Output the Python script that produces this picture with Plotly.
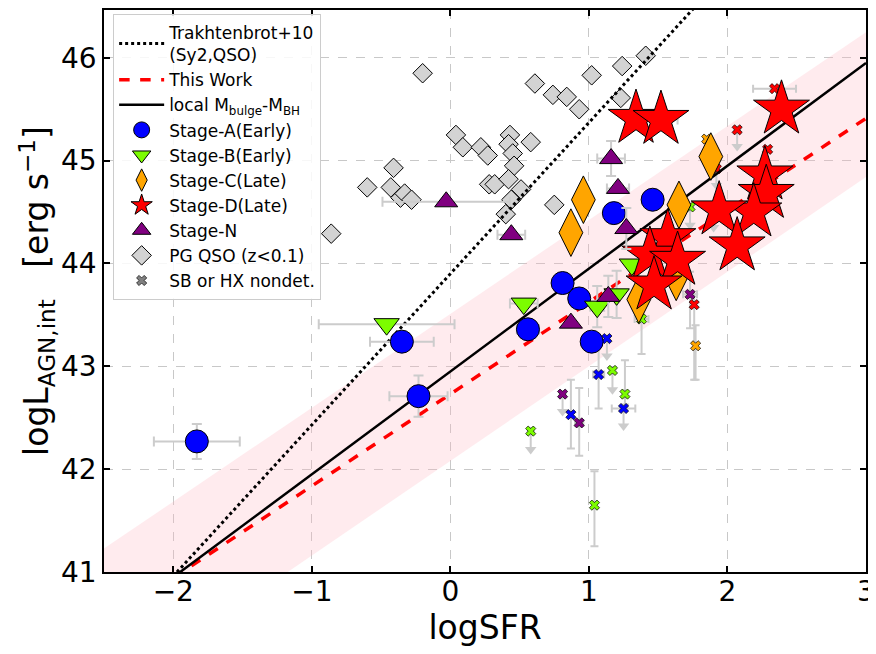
import numpy as np
import plotly.graph_objects as go

# ---------------- data ----------------
# Stage-A (Early)
a_x = [-1.83, -0.23, -0.35, 0.56, 0.81, 0.93, 1.02, 1.18, 1.46]
a_y = [42.27, 42.71, 43.24, 43.36, 43.81, 43.66, 43.24, 44.49, 44.62]
a_xe = [0.31, 0.21, 0.23, 0.08, 0.0, 0.0, 0.0, 0.0, 0.0]
a_ye = [0.17, 0.20, 0.0, 0.0, 0.0, 0.0, 0.05, 0.0, 0.0]

# Stage-B (Early)
b_x = [-0.46, 0.53, 1.06, 1.20, 1.31]
b_y = [43.41, 43.61, 43.58, 43.70, 43.99]
b_xe = [0.49, 0.10, 0.05, 0.0, 0.0]
b_ye = [0.0, 0.0, 0.2, 0.23, 0.0]

# Stage-C (Late)
c_x = [0.96, 0.87, 1.65, 1.88, 1.36, 1.63]
c_y = [44.62, 44.30, 44.57, 45.04, 43.65, 43.87]

# Stage-D (Late)
d_x = [1.34, 1.52, 2.39, 2.27, 2.28, 2.19, 1.94, 2.07, 1.57, 1.44, 1.64, 1.47]
d_y = [45.41, 45.40, 45.50, 44.86, 44.68, 44.50, 44.52, 44.17, 44.25, 44.08, 44.03, 43.79]
d_xe = [0.0, 0.12, 0.0, 0.0, 0.0, 0.0, 0.0, 0.0, 0.0, 0.0, 0.0, 0.0]

# Stage-N
n_x = [-0.03, 0.44, 1.16, 1.21, 1.27, 0.87, 1.14]
n_y = [44.60, 44.28, 45.02, 44.73, 44.34, 43.42, 43.68]
n_xe = [0.46, 0.10, 0.10, 0.08, 0.0, 0.0, 0.0]
n_ye = [0.0, 0.0, 0.17, 0.0, 0.2, 0.0, 0.2]

# PG QSO (z<0.1)
pg_x = [-0.20, -0.41, -0.60, -0.43, -0.36, -0.33, -0.28, -0.86, 0.04, 0.09, 0.22,
        0.27, 0.28, 0.32, 0.43, 0.42, 0.45, 0.58, 0.46, 0.42, 0.51, 0.44, 0.40,
        0.61, 0.74, 0.84, 0.93, 1.02, 1.24, 1.41, 1.23, 0.75]
pg_y = [45.85, 44.93, 44.74, 44.74, 44.64, 44.68, 44.62, 44.29, 45.25, 45.13, 45.13,
        45.05, 44.77, 44.77, 45.25, 45.16, 45.07, 45.18, 44.95, 44.82, 44.72, 44.62, 44.48,
        45.75, 45.64, 45.62, 45.50, 45.83, 45.92, 46.02, 45.61, 44.57]

# SB or HX non-detections: stage, x, y, xerr, yerr_up, yerr_down, upper-limit arrow length
nd_stage = ["B", "A", "A", "B", "B", "A", "N", "A", "N", "B", "B", "N", "D", "C",
            "D", "D", "C", "D", "D", "D", "D", "B"]
nd_x = [1.38, 1.13, 1.07, 1.17, 1.26, 1.25, 0.81, 0.87, 0.93, 0.58, 1.04, 1.73, 1.76, 1.77,
        2.34, 2.07, 1.85, 1.92, 2.29, 2.27, 1.90, 1.73]
nd_y = [43.46, 43.27, 42.92, 42.96, 42.73, 42.59, 42.73, 42.53, 42.45, 42.37, 41.65, 43.70, 43.60, 43.20,
        45.70, 45.30, 45.21, 44.92, 45.11, 44.77, 44.52, 44.55]
nd_xe = [0.05, 0.0, 0.04, 0.0, 0.0, 0.085, 0.0, 0.0, 0.03, 0.0, 0.0, 0.05, 0.0, 0.0,
         0.155, 0.0, 0.0, 0.0, 0.0, 0.0, 0.0, 0.0]
nd_yup = [0.10, 0.0, 0.35, 0.0, 0.33, 0.0, 0.0, 0.34, 0.34, 0.0, 0.33, 0.22, 0.10, 0.20,
          0.0, 0.0, 0.0, 0.0, 0.0, 0.0, 0.0, 0.0]
nd_ydn = [0.34, 0.0, 0.33, 0.0, 0.10, 0.0, 0.0, 0.33, 0.32, 0.0, 0.40, 0.33, 0.73, 0.33,
          0.0, 0.0, 0.0, 0.0, 0.0, 0.0, 0.0, 0.0]
nd_lim = [0.0, 0.20, 0.0, 0.22, 0.0, 0.20, 0.20, 0.0, 0.0, 0.21, 0.0, 0.0, 0.0, 0.0,
          0.0, 0.19, 0.0, 0.19, 0.0, 0.0, 0.20, 0.21]

# relations: slope, intercept
trakh_rel = (1.47, 43.90)
local_rel = (1.00, 42.95)
this_rel = (0.894, 42.73)
band_upper = (0.913, 43.51)
band_lower = (0.920, 42.08)

x_range = [-2.5, 3.0]
y_range = [41.0, 46.465]
x_ticks = [-2, -1, 0, 1, 2, 3]
y_ticks = [41, 42, 43, 44, 45, 46]

stage_colors = {"A": "#0000ff", "B": "#7cfc00", "C": "#ffa500", "D": "#ff0000", "N": "#800080"}

# ---------------- figure ----------------
FONT = "DejaVu Sans"
GRAY = "#cccccc"
fig = go.Figure()

xl = np.linspace(x_range[0], x_range[1], 50)

# band
up = band_upper[0] * xl + band_upper[1]
lo = band_lower[0] * xl + band_lower[1]
fig.add_trace(go.Scatter(x=np.concatenate([xl, xl[::-1]]), y=np.concatenate([up, lo[::-1]]),
                         fill="toself", fillcolor="rgba(255,182,193,0.28)", line=dict(width=0),
                         mode="lines", showlegend=False, hoverinfo="skip"))

# PG QSO
fig.add_trace(go.Scatter(x=pg_x, y=pg_y, mode="markers", name="PG QSO (z<0.1)", legendrank=9,
                         marker=dict(symbol="diamond", size=15, color="#d3d3d3",
                                     line=dict(color="black", width=1))))

# nondetections
ndx = np.array(nd_x); ndy = np.array(nd_y); ndlim = np.array(nd_lim)
is_lim = ndlim > 0
fig.add_trace(go.Scatter(x=ndx, y=ndy, mode="markers", marker=dict(size=1, opacity=0),
                         error_x=dict(type="data", array=nd_xe, color=GRAY, thickness=2, width=4),
                         error_y=dict(type="data", symmetric=False, array=nd_yup, arrayminus=nd_ydn,
                                      color=GRAY, thickness=2, width=4),
                         showlegend=False, hoverinfo="skip"))
fig.add_trace(go.Scatter(x=ndx[is_lim], y=ndy[is_lim], mode="markers", marker=dict(size=1, opacity=0),
                         error_y=dict(type="data", symmetric=False, array=np.zeros(is_lim.sum()),
                                      arrayminus=ndlim[is_lim], color=GRAY, thickness=2, width=0),
                         showlegend=False, hoverinfo="skip"))
fig.add_trace(go.Scatter(x=ndx[is_lim], y=(ndy - ndlim * 0.85)[is_lim], mode="markers",
                         marker=dict(symbol="triangle-down", size=10, color=GRAY),
                         showlegend=False, hoverinfo="skip"))
for st in ["A", "B", "C", "D", "N"]:
    idx = [i for i, s in enumerate(nd_stage) if s == st]
    fig.add_trace(go.Scatter(x=[nd_x[i] for i in idx], y=[nd_y[i] for i in idx], mode="markers",
                             marker=dict(symbol="x", size=9, color=stage_colors[st],
                                         line=dict(color="black", width=0.7)),
                             showlegend=False))
fig.add_trace(go.Scatter(x=[None], y=[None], mode="markers", name="SB or HX nondet.", legendrank=10,
                         marker=dict(symbol="x", size=9, color="gray", line=dict(color="black", width=0.7))))

# relation lines
fig.add_trace(go.Scatter(x=xl, y=trakh_rel[0] * xl + trakh_rel[1], mode="lines",
                         name="Trakhtenbrot+10<br>(Sy2,QSO)", legendrank=1,
                         line=dict(color="black", width=3, dash="dot")))
fig.add_trace(go.Scatter(x=xl, y=this_rel[0] * xl + this_rel[1], mode="lines",
                         name="This Work", legendrank=2,
                         line=dict(color="red", width=3.5, dash="dash")))
fig.add_trace(go.Scatter(x=xl, y=local_rel[0] * xl + local_rel[1], mode="lines",
                         name="local M<sub>bulge</sub>-M<sub>BH</sub>", legendrank=3,
                         line=dict(color="black", width=2.5)))

def err(arr):
    return dict(type="data", array=arr, color=GRAY, thickness=2, width=5)

fig.add_trace(go.Scatter(x=a_x, y=a_y, mode="markers", name="Stage-A(Early)", legendrank=4,
                         error_x=err(a_xe), error_y=err(a_ye),
                         marker=dict(symbol="circle", size=23, color="#0000ff",
                                     line=dict(color="black", width=1))))
fig.add_trace(go.Scatter(x=b_x, y=b_y, mode="markers", name="Stage-B(Early)", legendrank=5,
                         error_x=err(b_xe), error_y=err(b_ye),
                         marker=dict(symbol="triangle-down", size=22, color="#7cfc00",
                                     line=dict(color="black", width=1))))
fig.add_trace(go.Scatter(x=c_x, y=c_y, mode="markers", name="Stage-C(Late)", legendrank=6,
                         marker=dict(symbol="diamond-tall", size=34, color="#ffa500",
                                     line=dict(color="black", width=1))))
fig.add_trace(go.Scatter(x=d_x, y=d_y, mode="markers", name="Stage-D(Late)", legendrank=7,
                         error_x=err(d_xe),
                         marker=dict(symbol="star", size=42, color="#ff0000",
                                     line=dict(color="black", width=1))))
fig.add_trace(go.Scatter(x=n_x, y=n_y, mode="markers", name="Stage-N", legendrank=8,
                         error_x=err(n_xe), error_y=err(n_ye),
                         marker=dict(symbol="triangle-up", size=20, color="#800080",
                                     line=dict(color="black", width=1))))

axis_common = dict(showline=True, linecolor="black", linewidth=1.5, mirror="ticks",
                   ticks="inside", ticklen=6, tickwidth=1.5, tickcolor="black",
                   showgrid=True, gridcolor="#c8c8c8", griddash="dash", gridwidth=1,
                   zeroline=False, tickfont=dict(family=FONT, size=28, color="black"))

fig.update_xaxes(range=x_range, tickvals=x_ticks, **axis_common, ticklabelstandoff=-6,
                 title=dict(text="logSFR", font=dict(family=FONT, size=33, color="black"), standoff=4))
fig.update_yaxes(range=y_range, tickvals=y_ticks, **axis_common,
                 title=dict(text="logL<sub>AGN,int</sub>   [erg s<sup>−1</sup>]",
                            font=dict(family=FONT, size=33, color="black"), standoff=2))

# page body adds an 8px offset; figure sized so that the plot lands where the reference has it
fig.update_layout(
    width=868, height=646,
    margin=dict(l=96, r=10, t=0, b=82),
    paper_bgcolor="white", plot_bgcolor="white",
    font=dict(family=FONT, color="black"),
    showlegend=True,
    legend=dict(x=0.012, y=0.993, xanchor="left", yanchor="top",
                bgcolor="rgba(255,255,255,0.85)", bordercolor="#cccccc", borderwidth=1,
                font=dict(family=FONT, size=17, color="black"), tracegroupgap=0,
                itemwidth=45),
)

fig.write_html("out.html")
